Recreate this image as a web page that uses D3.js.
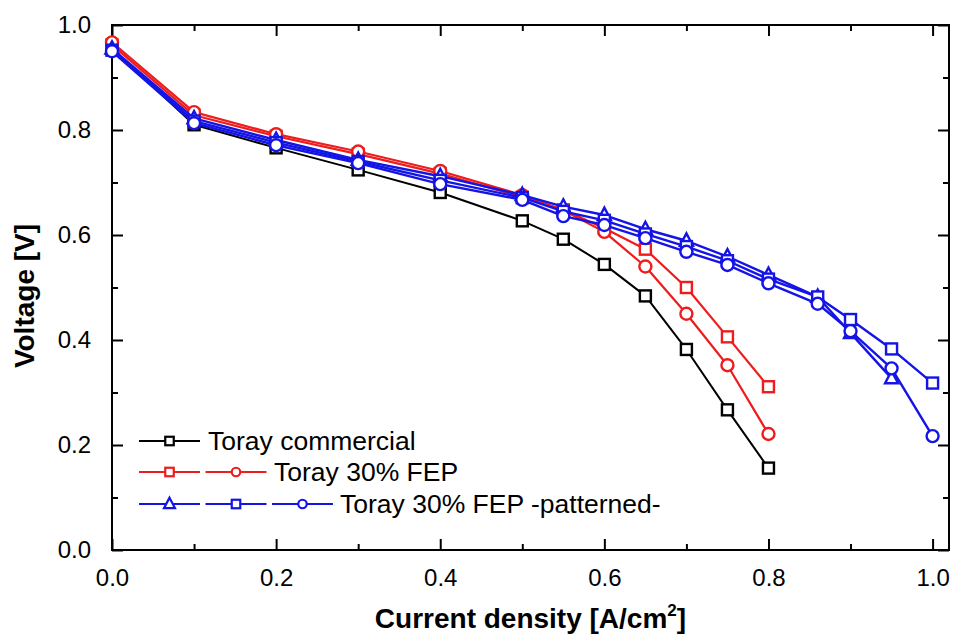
<!DOCTYPE html>
<html><head><meta charset="utf-8">
<script src="https://cdn.jsdelivr.net/npm/d3@7"></script>
<style>
body{margin:0;background:#fff;}
svg{display:block;}
.tl{font-family:"Liberation Sans Narrow","Arial Narrow","Liberation Sans",Arial,sans-serif;font-size:24px;fill:#000;}
.ttl{font-family:"Liberation Sans",Arial,sans-serif;font-weight:bold;font-size:28px;fill:#000;}
.lg{font-family:"Liberation Sans",Arial,sans-serif;font-size:26.5px;fill:#000;}
</style></head>
<body><svg id="c" width="954" height="635"></svg>
<script>
// ---- data ----
const xMajor = [0.0, 0.2, 0.4, 0.6, 0.8, 1.0];
const xMinor = [0.1, 0.3, 0.5, 0.7, 0.9];
const yMajor = [0.0, 0.2, 0.4, 0.6, 0.8, 1.0];
const yMinor = [0.1, 0.3, 0.5, 0.7, 0.9];

const xCommercial = [0, 0.1, 0.2, 0.3, 0.4, 0.5, 0.55, 0.6, 0.65, 0.7, 0.75, 0.8];
const vCommercial = [0.955, 0.810, 0.766, 0.724, 0.681, 0.627, 0.592, 0.544, 0.484, 0.382, 0.267, 0.156];

const xFep = [0, 0.1, 0.2, 0.3, 0.4, 0.5, 0.55, 0.6, 0.65, 0.7, 0.75, 0.8];
const vFepSquare = [0.962, 0.828, 0.788, 0.754, 0.717, 0.672, 0.648, 0.613, 0.573, 0.500, 0.406, 0.311];
const vFepCircle = [0.967, 0.834, 0.792, 0.759, 0.722, 0.676, 0.647, 0.606, 0.540, 0.450, 0.352, 0.221];

const xPatTri = [0, 0.1, 0.2, 0.3, 0.4, 0.5, 0.55, 0.6, 0.65, 0.7, 0.75, 0.8, 0.86, 0.9, 0.95];
const vPatTri = [0.955, 0.822, 0.781, 0.743, 0.712, 0.676, 0.654, 0.638, 0.611, 0.589, 0.559, 0.524, 0.482, 0.413, 0.327];
const xPat = [0, 0.1, 0.2, 0.3, 0.4, 0.5, 0.55, 0.6, 0.65, 0.7, 0.75, 0.8, 0.86, 0.9, 0.95, 1.0];
const vPatSquare = [0.952, 0.817, 0.776, 0.740, 0.704, 0.671, 0.645, 0.628, 0.602, 0.578, 0.551, 0.516, 0.482, 0.439, 0.383, 0.318];
const vPatCircle = [0.950, 0.813, 0.771, 0.737, 0.697, 0.667, 0.636, 0.619, 0.594, 0.568, 0.543, 0.508, 0.469, 0.417, 0.346, 0.217];

const legendLabels = ["Toray commercial", "Toray 30% FEP", "Toray 30% FEP -patterned-"];

// ---- layout ----
const L = 112, R = 949, T = 25, B = 550;
const svg = d3.select("#c");
const x = d3.scaleLinear().domain([0, 1.02]).range([L, R]);
const y = d3.scaleLinear().domain([0, 1.0]).range([B, T]);

// frame
svg.append("rect").attr("x", L).attr("y", T).attr("width", R - L).attr("height", B - T)
  .attr("fill", "none").attr("stroke", "#000").attr("stroke-width", 2);

function axis(gen, vals, size, labels, pad, tr) {
  const g = svg.append("g").attr("transform", tr)
    .call(gen.tickValues(vals).tickSizeInner(-size).tickSizeOuter(0).tickPadding(pad)
      .tickFormat(labels ? d3.format(".1f") : () => ""));
  g.select(".domain").remove();
  g.selectAll(".tick line").attr("stroke", "#000").attr("stroke-width", 2);
  g.selectAll(".tick text").attr("class", "tl").attr("font-size", null).attr("font-family", null);
  return g;
}
axis(d3.axisBottom(x), xMajor, 11, true, 19, `translate(0,${B})`);
axis(d3.axisBottom(x), xMinor, 6, false, 0, `translate(0,${B})`);
axis(d3.axisTop(x), xMajor, 11, false, 0, `translate(0,${T})`);
axis(d3.axisTop(x), xMinor, 6, false, 0, `translate(0,${T})`);
axis(d3.axisLeft(y), yMajor, 11, true, 21, `translate(${L},0)`);
axis(d3.axisLeft(y), yMinor, 6, false, 0, `translate(${L},0)`);
axis(d3.axisRight(y), yMajor, 11, false, 0, `translate(${R},0)`);
axis(d3.axisRight(y), yMinor, 6, false, 0, `translate(${R},0)`);

// titles
const xt = svg.append("text").attr("class", "ttl").attr("text-anchor", "middle")
  .attr("x", (L + R) / 2).attr("y", 628);
xt.append("tspan").text("Current density [A/cm");
xt.append("tspan").attr("font-size", "17px").attr("dy", -12).text("2");
xt.append("tspan").attr("dy", 12).text("]");
svg.append("text").attr("class", "ttl").attr("text-anchor", "middle")
  .attr("transform", "translate(34,296) rotate(-90)").text("Voltage [V]");

// marker drawing
function marker(g, type, cx, cy, s, color, sw) {
  if (type === "square") {
    g.append("rect").attr("x", cx - s / 2).attr("y", cy - s / 2).attr("width", s).attr("height", s)
      .attr("fill", "#fff").attr("stroke", color).attr("stroke-width", sw);
  } else if (type === "circle") {
    g.append("circle").attr("cx", cx).attr("cy", cy).attr("r", s / 2)
      .attr("fill", "#fff").attr("stroke", color).attr("stroke-width", sw);
  } else {
    const h = s * 0.95;
    g.append("path").attr("d", `M${cx},${cy - h * 0.6}L${cx + s / 2},${cy + h * 0.4}L${cx - s / 2},${cy + h * 0.4}Z`)
      .attr("fill", "#fff").attr("stroke", color).attr("stroke-width", sw);
  }
}

const series = [
  { xs: xCommercial, vs: vCommercial, color: "#000", type: "square", lw: 2 },
  { xs: xFep, vs: vFepSquare, color: "#ee1c1c", type: "square", lw: 2.2 },
  { xs: xFep, vs: vFepCircle, color: "#ee1c1c", type: "circle", lw: 2.2 },
  { xs: xPatTri, vs: vPatTri, color: "#1414e6", type: "triangle", lw: 2.4 },
  { xs: xPat, vs: vPatSquare, color: "#1414e6", type: "square", lw: 2.4 },
  { xs: xPat, vs: vPatCircle, color: "#1414e6", type: "circle", lw: 2.4 }
];
const line = d3.line().x(d => x(d[0])).y(d => y(d[1]));
const plot = svg.append("g");
series.forEach(s => {
  const pts = s.xs.map((xv, i) => [xv, s.vs[i]]);
  plot.append("path").attr("d", line(pts)).attr("fill", "none")
    .attr("stroke", s.color).attr("stroke-width", s.lw).attr("stroke-linejoin", "round");
  const mg = plot.append("g");
  const size = s.type === "circle" ? 12 : (s.type === "triangle" ? 13 : 11);
  pts.forEach(p => marker(mg, s.type, x(p[0]), y(p[1]), size, s.color, 2.4));
});

// legend
const lg = svg.append("g");
const rows = [
  { yy: 441, items: [{ c: "#000", t: "square" }], tx: 208 },
  { yy: 472, items: [{ c: "#ee1c1c", t: "square" }, { c: "#ee1c1c", t: "circle" }], tx: 274 },
  { yy: 504, items: [{ c: "#1414e6", t: "triangle" }, { c: "#1414e6", t: "square" }, { c: "#1414e6", t: "circle" }], tx: 340 }
];
rows.forEach((r, ri) => {
  r.items.forEach((it, k) => {
    const x0 = 139 + k * 66.5, x1 = x0 + 61, cx = (x0 + x1) / 2;
    lg.append("line").attr("x1", x0).attr("x2", x1).attr("y1", r.yy).attr("y2", r.yy)
      .attr("stroke", it.c).attr("stroke-width", 2.2);
    marker(lg, it.t, cx, r.yy, it.t === "triangle" ? 11 : 8.5, it.c, 2.2);
  });
  lg.append("text").attr("class", "lg").attr("x", r.tx).attr("y", r.yy + 9).text(legendLabels[ri]);
});
</script></body></html>
